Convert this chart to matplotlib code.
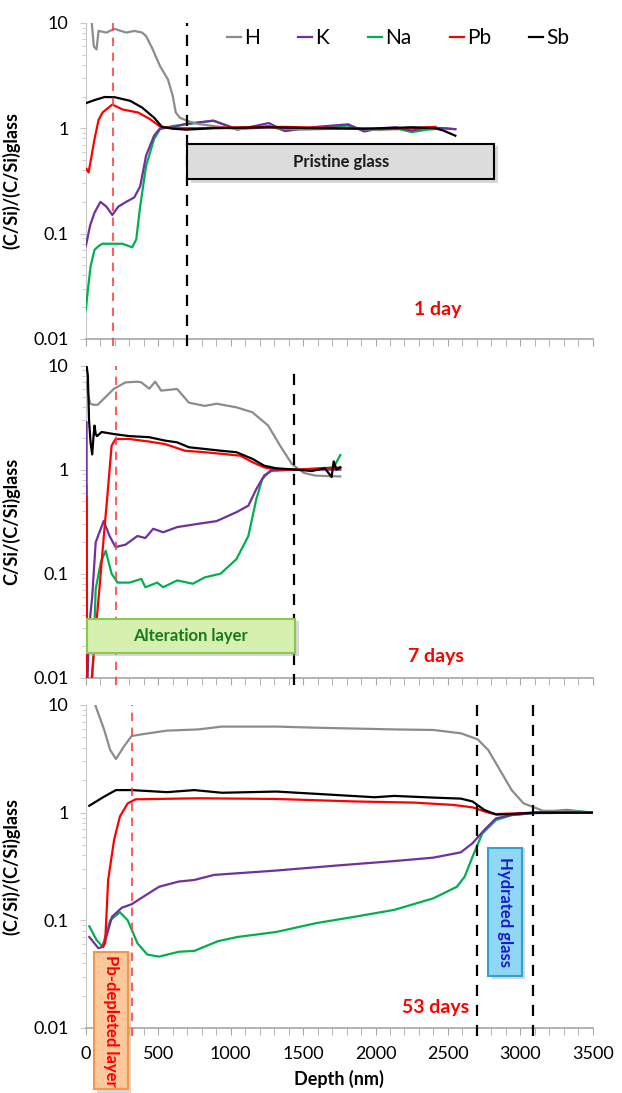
import matplotlib
matplotlib.use("Agg")
import matplotlib.pyplot as plt
from matplotlib.patches import Rectangle
from matplotlib.ticker import MultipleLocator, LogLocator, NullFormatter, FixedLocator, FixedFormatter

plt.rcParams['font.family'] = ['Lato', 'DejaVu Sans']

elements = ["H", "K", "Na", "Pb", "Sb"]
colors = {"H": "#8c8c8c", "K": "#7030a0", "Na": "#00b050", "Pb": "#ff0000", "Sb": "#000000"}

# ---- 1 day ----
d1_H = [41, 55, 74, 88, 142, 197, 279, 334, 389, 416, 457, 512, 567, 600, 621, 649, 703, 772, 881, 1046, 1264, 1500, 1812, 2031, 2250, 2414]
v1_H = [10, 6.0, 5.6, 8.4, 8.1, 8.8, 8.1, 8.4, 8.1, 7.5, 5.8, 3.9, 2.9, 2.03, 1.41, 1.26, 1.17, 1.1, 1.05, 0.98, 1.02, 0.97, 1.0, 0.96, 1.02, 1.0]
d1_Sb = [0, 60, 130, 200, 307, 389, 471, 526, 600, 690, 881, 1264, 1593, 1921, 2250, 2414, 2469, 2551]
v1_Sb = [1.73, 1.85, 1.98, 1.97, 1.82, 1.57, 1.26, 1.03, 0.99, 0.97, 1.0, 1.02, 1.0, 0.99, 1.02, 1.0, 0.95, 0.85]
d1_Pb = [5, 19, 40, 60, 88, 115, 183, 252, 361, 443, 512, 600, 772, 1046, 1374, 1812, 2140, 2414]
v1_Pb = [0.41, 0.38, 0.55, 0.79, 1.2, 1.41, 1.68, 1.51, 1.41, 1.22, 1.04, 1.0, 1.0, 1.02, 1.03, 1.0, 0.98, 1.03]
d1_K = [0, 30, 60, 101, 142, 183, 224, 279, 334, 375, 416, 471, 512, 600, 690, 881, 1046, 1264, 1374, 1593, 1812, 1921, 2031, 2140, 2250, 2359, 2469, 2551]
v1_K = [0.076, 0.12, 0.158, 0.2, 0.18, 0.15, 0.18, 0.2, 0.22, 0.28, 0.55, 0.85, 1.0, 1.02, 1.1, 1.18, 0.97, 1.12, 0.94, 1.03, 1.09, 0.93, 1.0, 1.02, 0.95, 1.02, 1.0, 0.98]
d1_Na = [0, 15, 33, 60, 88, 115, 252, 320, 348, 375, 416, 471, 512, 600, 690, 881, 1046, 1264, 1374, 1593, 1812, 1921, 2140, 2250, 2359, 2469, 2551]
v1_Na = [0.019, 0.03, 0.049, 0.07, 0.076, 0.08, 0.08, 0.074, 0.088, 0.18, 0.44, 0.79, 0.98, 1.05, 1.09, 1.18, 0.98, 1.05, 0.95, 1.02, 1.06, 0.96, 1.0, 0.92, 0.97, 1.0, 0.98]

# ---- 7 days ----
d7_H = [5, 14, 30, 55, 82, 192, 274, 356, 383, 438, 479, 520, 630, 712, 821, 903, 1040, 1150, 1259, 1341, 1423, 1505, 1587, 1757]
v7_H = [7.0, 5.5, 4.3, 4.2, 4.2, 5.96, 6.9, 7.0, 6.9, 6.0, 7.0, 5.75, 5.96, 4.4, 4.1, 4.3, 3.97, 3.56, 2.65, 1.7, 1.13, 0.93, 0.875, 0.86]
d7_Sb = [5, 14, 22, 33, 44, 52, 60, 68, 77, 109, 192, 301, 438, 547, 630, 712, 821, 931, 1040, 1150, 1232, 1314, 1451, 1560, 1650, 1697, 1711, 1730, 1757]
v7_Sb = [10, 8.0, 3.0, 1.8, 1.4, 2.0, 2.65, 2.2, 2.1, 2.3, 2.2, 2.1, 2.05, 1.9, 1.83, 1.64, 1.58, 1.52, 1.47, 1.27, 1.09, 1.03, 1.0, 0.97, 1.03, 0.85, 1.2, 1.0, 1.05]
d7_Pb = [5, 8, 41, 68, 96, 123, 151, 178, 205, 301, 438, 547, 684, 821, 958, 1067, 1150, 1232, 1314, 1451, 1600, 1757]
v7_Pb = [0.54, 0.005, 0.01, 0.028, 0.078, 0.22, 0.61, 1.7, 1.97, 1.97, 1.86, 1.76, 1.52, 1.47, 1.41, 1.36, 1.18, 1.05, 1.0, 1.0, 1.02, 1.05]
d7_K = [5, 6, 22, 44, 68, 123, 164, 205, 274, 356, 411, 465, 534, 630, 766, 903, 1040, 1122, 1177, 1232, 1286, 1451, 1757]
v7_K = [2.85, 0.005, 0.03, 0.06, 0.2, 0.32, 0.23, 0.18, 0.19, 0.23, 0.22, 0.27, 0.25, 0.28, 0.3, 0.32, 0.39, 0.45, 0.65, 0.88, 0.98, 1.0, 1.0]
d7_Na = [5, 6, 33, 55, 68, 104, 137, 178, 219, 301, 383, 411, 493, 534, 630, 739, 821, 931, 1040, 1122, 1177, 1218, 1273, 1451, 1711, 1757]
v7_Na = [0.7, 0.005, 0.005, 0.02, 0.071, 0.13, 0.166, 0.1, 0.082, 0.082, 0.089, 0.074, 0.082, 0.074, 0.086, 0.08, 0.092, 0.1, 0.138, 0.23, 0.52, 0.81, 0.98, 1.0, 1.05, 1.38]

# ---- 53 days ----
d53_H = [65, 127, 168, 208, 262, 316, 398, 560, 776, 939, 1317, 1588, 2129, 2399, 2589, 2705, 2778, 2859, 2940, 3022, 3095, 3157, 3319, 3500]
v53_H = [10, 5.86, 3.82, 3.15, 4.1, 5.15, 5.37, 5.78, 5.93, 6.3, 6.3, 6.15, 5.93, 5.86, 5.46, 4.8, 3.82, 2.49, 1.62, 1.22, 1.12, 1.04, 1.04, 1.0]
d53_Sb = [24, 127, 208, 316, 560, 749, 939, 1317, 1723, 1994, 2129, 2399, 2589, 2670, 2751, 2832, 2940, 3095, 3500]
v53_Sb = [1.16, 1.41, 1.62, 1.62, 1.55, 1.62, 1.53, 1.57, 1.46, 1.39, 1.43, 1.38, 1.35, 1.27, 1.06, 0.96, 0.97, 1.0, 1.0]
d53_Pb = [114, 133, 154, 195, 235, 289, 344, 776, 1317, 1858, 2264, 2535, 2670, 2778, 2832, 3100, 3500]
v53_Pb = [0.057, 0.061, 0.237, 0.557, 0.918, 1.22, 1.33, 1.36, 1.34, 1.27, 1.24, 1.18, 1.12, 1.0, 0.97, 1.0, 1.0]
d53_K = [24, 87, 122, 181, 249, 316, 398, 506, 641, 749, 885, 1317, 1723, 2129, 2399, 2589, 2670, 2751, 2832, 2940, 3095, 3500]
v53_K = [0.07, 0.055, 0.057, 0.108, 0.131, 0.141, 0.166, 0.205, 0.229, 0.237, 0.264, 0.29, 0.322, 0.355, 0.382, 0.428, 0.52, 0.69, 0.886, 0.95, 0.99, 1.0]
d53_Na = [24, 73, 114, 168, 235, 289, 357, 425, 506, 641, 749, 912, 1047, 1317, 1588, 1858, 2129, 2399, 2562, 2616, 2670, 2737, 2832, 2940, 3319, 3500]
v53_Na = [0.088, 0.066, 0.057, 0.1, 0.119, 0.1, 0.061, 0.048, 0.046, 0.051, 0.052, 0.064, 0.07, 0.078, 0.094, 0.108, 0.125, 0.16, 0.205, 0.255, 0.39, 0.64, 0.855, 0.95, 1.06, 1.0]

panels = [
    {"H": (d1_H, v1_H), "K": (d1_K, v1_K), "Na": (d1_Na, v1_Na), "Pb": (d1_Pb, v1_Pb), "Sb": (d1_Sb, v1_Sb)},
    {"H": (d7_H, v7_H), "K": (d7_K, v7_K), "Na": (d7_Na, v7_Na), "Pb": (d7_Pb, v7_Pb), "Sb": (d7_Sb, v7_Sb)},
    {"H": (d53_H, v53_H), "K": (d53_K, v53_K), "Na": (d53_Na, v53_Na), "Pb": (d53_Pb, v53_Pb), "Sb": (d53_Sb, v53_Sb)},
]
ylabels = ["(C/Si)/(C/Si)glass", "C/Si/(C/Si)glass", "(C/Si)/(C/Si)glass"]
day_labels = ["1 day", "7 days", "53 days"]
red_lines = [187, 205, 320]
black_lines = [[700], [1440], [2700, 3090]]
yticks = [0.01, 0.1, 1, 10]
ytick_labels = ["0.01", "0.1", "1", "10"]

fig = plt.figure(figsize=(6.22, 10.93), dpi=100)
rects = [[0.138, 0.690, 0.815, 0.289],
         [0.138, 0.380, 0.815, 0.2855],
         [0.138, 0.0595, 0.815, 0.2955]]

axes = []
for i, r in enumerate(rects):
    ax = fig.add_axes(r)
    axes.append(ax)
    for el in ["Na", "K", "H", "Pb", "Sb"]:
        d, v = panels[i][el]
        ax.plot(d, v, color=colors[el], lw=1.6, label=el, zorder=3)
    ax.set_yscale("log")
    ax.set_ylim(0.01, 10)
    ax.set_xlim(0, 3500)
    ax.yaxis.set_major_locator(FixedLocator(yticks))
    ax.yaxis.set_major_formatter(FixedFormatter(ytick_labels))
    ax.yaxis.set_minor_locator(LogLocator(base=10, subs=range(2, 10)))
    ax.yaxis.set_minor_formatter(NullFormatter())
    ax.xaxis.set_major_locator(MultipleLocator(500))
    ax.xaxis.set_minor_locator(MultipleLocator(100))
    for s in ["top", "right"]:
        ax.spines[s].set_visible(False)
    ax.spines["left"].set_color("#c8c8c8")
    ax.spines["bottom"].set_color("#a6a6a6")
    ax.spines["bottom"].set_linewidth(1.2)
    ax.tick_params(axis="y", which="major", length=4.5, color="#c8c8c8", labelsize=13, pad=8)
    ax.tick_params(axis="y", which="minor", length=3, color="#c8c8c8")
    ax.tick_params(axis="x", which="both", length=5, color="#a6a6a6", labelsize=13, pad=8)
    if i < 2:
        ax.tick_params(axis="x", which="both", labelbottom=False)
    ax.set_ylabel(ylabels[i], fontsize=13, fontweight="bold")
    ax.yaxis.set_label_coords(-0.13, 0.5)

    ax.plot([red_lines[i], red_lines[i]], [0.0085, 10], color="#ff4040", lw=1.2,
            ls=(0, (5, 4)), clip_on=False, zorder=4)
    for bx in black_lines[i]:
        ax.plot([bx, bx], [0.0085, 10], color="black", lw=1.6,
                ls=(0, (5, 4)), clip_on=False, zorder=4)

# legend on top panel
hl = {h.get_label(): h for h in axes[0].get_lines()[:5]}
axes[0].legend([hl[e] for e in elements], elements, loc="center", bbox_to_anchor=(0.616, 0.953),
               ncol=5, frameon=False, handlelength=0.67, handletextpad=0.15, columnspacing=1.85,
               fontsize=15, borderpad=0)

# day labels
axes[0].text(0.694, 0.092, day_labels[0], transform=axes[0].transAxes, color="#ff0000",
             fontsize=14, fontweight="bold", ha="center", va="center")
axes[1].text(0.69, 0.067, day_labels[1], transform=axes[1].transAxes, color="#ff0000",
             fontsize=14, fontweight="bold", ha="center", va="center")
axes[2].text(0.756, 0.062, day_labels[2], transform=axes[2].transAxes, color="#ff0000",
             fontsize=14, fontweight="bold", ha="right", va="center")

# boxes
def box(ax, x0, x1, y0, y1, fc, ec, text, tcolor, rot=0, fs=11):
    sh = Rectangle((x0 + 25, y0 * 0.93), x1 - x0, y1 - y0, facecolor="#b0b0b0", edgecolor="none",
                   alpha=0.5, clip_on=False, zorder=5)
    ax.add_patch(sh)
    r = Rectangle((x0, y0), x1 - x0, y1 - y0, facecolor=fc, edgecolor=ec, lw=1.5,
                  clip_on=False, zorder=6)
    ax.add_patch(r)
    ax.text((x0 + x1) / 2, (y0 * y1) ** 0.5, text, color=tcolor, fontsize=fs, fontweight="bold",
            rotation=rot, ha="center", va="center", zorder=7, clip_on=False)

box(axes[0], 700, 2820, 0.328, 0.705, "#dcdcdc", "black", "Pristine glass", "#1a1a1a", fs=12)
box(axes[1], 5, 1445, 0.0172, 0.0365, "#d6f0b0", "#8cc850", "Alteration layer", "#1a7a1a", fs=12)
box(axes[2], 55, 290, 0.0027, 0.051, "#fcc89c", "#f79646", "Pb-depleted layer", "#ff0000", rot=270, fs=12)
box(axes[2], 2780, 3010, 0.0306, 0.473, "#8fd8f5", "#31a2d0", "Hydrated glass", "#1a1ad0", rot=270, fs=12)

axes[2].set_xlabel("Depth (nm)", fontsize=13, fontweight="bold", labelpad=6)

fig.savefig("out.png", dpi=100)
